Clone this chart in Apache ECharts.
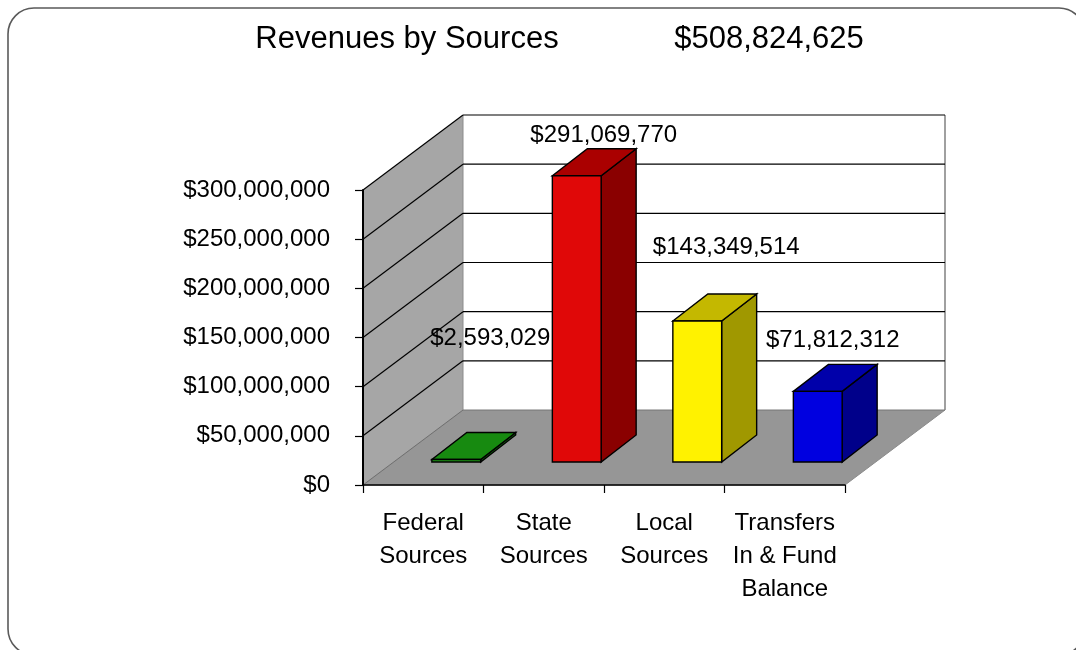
<!DOCTYPE html>
<html>
<head>
<meta charset="utf-8">
<title>Revenues by Sources</title>
<script src="https://cdn.jsdelivr.net/npm/echarts@6/dist/echarts.min.js"></script>
<style>
  html, body { margin: 0; padding: 0; background: #ffffff; }
  #chart { width: 1076px; height: 650px; }
</style>
</head>
<body>
<div id="chart"></div>
<script>
// Revenue sources (dollars)
const categories = ['Federal\nSources', 'State\nSources', 'Local\nSources', 'Transfers\nIn & Fund\nBalance'];
const revenues = [2593029, 291069770, 143349514, 71812312];
const chartTitle = 'Revenues by Sources';

// Value axis range
const axisMin = 0;
const axisMax = 300000000;
const axisStep = 50000000;

// Face colours per bar: [front, top, side]
const barFaces = [
  ['#1e9c16', '#178a10', '#0f660a'],
  ['#e00808', '#aa0000', '#8a0000'],
  ['#fff200', '#c4b800', '#a09800'],
  ['#0000e0', '#0000aa', '#00008a']
];

// Pixel offsets of each value label from its bar's value point
const labelOffsets = [[67, -144], [60, -63], [62, -97], [48, -74]];

// Pseudo-3D geometry (pixels)
const WALL_DEPTH = [100, -75];   // floor / side wall depth
const BAR_FRONT = [33, -23];     // bar front face pushed back into the scene
const BAR_DEPTH = [35, -27];     // bar thickness
const BAR_FRACTION = 0.405;      // bar width as share of a category band

const FONT = '"Liberation Sans", Arial, Helvetica, sans-serif';
const money = v => '$' + Math.round(v).toLocaleString('en-US');
const total = revenues.reduce((a, b) => a + b, 0);

const chart = echarts.init(document.getElementById('chart'), null, { renderer: 'canvas' });

function poly(points, fill, stroke, lw) {
  return {
    type: 'polygon',
    shape: { points: points },
    style: { fill: fill, stroke: stroke || null, lineWidth: lw || 0 }
  };
}
function seg(a, b, stroke, lw) {
  return {
    type: 'line',
    shape: { x1: a[0], y1: a[1], x2: b[0], y2: b[1] },
    style: { stroke: stroke, lineWidth: lw }
  };
}

// Side wall, back wall, floor and their gridlines
function renderFrame(params, api) {
  const cs = params.coordSys;
  const x0 = cs.x, x1 = cs.x + cs.width;
  const dx = WALL_DEPTH[0], dy = WALL_DEPTH[1];
  const yv = v => api.coord([0, v])[1];
  const yBot = yv(axisMin), yTop = yv(axisMax);
  const kids = [];
  // floor
  kids.push(poly([[x0, yBot], [x1, yBot], [x1 + dx, yBot + dy], [x0 + dx, yBot + dy]], '#969696', '#8a8a8a', 1));
  // left wall
  kids.push(poly([[x0, yBot], [x0 + dx, yBot + dy], [x0 + dx, yTop + dy], [x0, yTop]], '#a6a6a6', null, 0));
  // back wall
  kids.push(poly([[x0 + dx, yTop + dy], [x1 + dx, yTop + dy], [x1 + dx, yBot + dy], [x0 + dx, yBot + dy]], '#ffffff', null, 0));
  // wall edges
  kids.push(seg([x0, yBot], [x0 + dx, yBot + dy], '#6e6e6e', 1));
  kids.push(seg([x0 + dx, yTop + dy], [x0 + dx, yBot + dy], '#8c8c8c', 1));
  kids.push(seg([x1 + dx, yTop + dy], [x1 + dx, yBot + dy], '#a0a0a0', 2));
  kids.push(seg([x0 + dx, yBot + dy], [x1 + dx, yBot + dy], '#7a7a7a', 1));
  // gridlines
  for (let v = axisMin + axisStep; v <= axisMax; v += axisStep) {
    const y = yv(v);
    kids.push(seg([x0, y], [x0 + dx, y + dy], '#000000', 1.2));
    kids.push(seg([x0 + dx, y + dy], [x1 + dx, y + dy], '#000000', 1.2));
  }
  return { type: 'group', children: kids };
}

// One pseudo-3D bar plus its value label
function renderBar(params, api) {
  const i = api.value(0);
  const v = api.value(1);
  const top = api.coord([i, v]);
  const base = api.coord([i, axisMin]);
  const w = api.size([1, 0])[0] * BAR_FRACTION;
  const xl = top[0] + BAR_FRONT[0] - w / 2;
  const xr = xl + w;
  const yt = top[1] + BAR_FRONT[1];
  const yb = base[1] + BAR_FRONT[1];
  const bx = BAR_DEPTH[0], by = BAR_DEPTH[1];
  const c = barFaces[i];
  const edge = '#000000';
  const off = labelOffsets[i];
  return {
    type: 'group',
    children: [
      poly([[xr, yt], [xr + bx, yt + by], [xr + bx, yb + by], [xr, yb]], c[2], edge, 1.4),
      poly([[xl, yt], [xr, yt], [xr + bx, yt + by], [xl + bx, yt + by]], c[1], edge, 1.4),
      poly([[xl, yt], [xr, yt], [xr, yb], [xl, yb]], c[0], edge, 1.4),
      {
        type: 'text',
        z2: 10,
        style: {
          text: money(v),
          x: top[0] + off[0],
          y: top[1] + off[1],
          fill: '#000000',
          font: '24px ' + FONT,
          align: 'center', verticalAlign: 'middle',
          textAlign: 'center', textVerticalAlign: 'middle'
        }
      }
    ]
  };
}

const option = {
  backgroundColor: '#ffffff',
  animation: false,
  graphic: [
    {
      type: 'rect',
      z: -10,
      shape: { x: 8, y: 8, width: 1077, height: 647, r: 26 },
      style: { fill: 'none', stroke: '#5a5a5a', lineWidth: 1.6 }
    },
    {
      type: 'text',
      style: {
        text: chartTitle, x: 407, y: 39, fill: '#000000', font: '31px ' + FONT,
        align: 'center', verticalAlign: 'middle', textAlign: 'center', textVerticalAlign: 'middle'
      }
    },
    {
      type: 'text',
      style: {
        text: money(total), x: 769, y: 39, fill: '#000000', font: '31px ' + FONT,
        align: 'center', verticalAlign: 'middle', textAlign: 'center', textVerticalAlign: 'middle'
      }
    }
  ],
  grid: { left: 363, right: 231, top: 190, bottom: 165, containLabel: false },
  xAxis: {
    type: 'category',
    data: categories,
    z: 5,
    axisLine: { show: true, lineStyle: { color: '#000000', width: 1.5 } },
    axisTick: { show: true, length: 8, inside: false, alignWithLabel: false, lineStyle: { color: '#000000', width: 1.2 } },
    axisLabel: {
      color: '#000000', fontFamily: FONT, fontSize: 24, lineHeight: 33, margin: 22,
      interval: 0
    },
    splitLine: { show: false }
  },
  yAxis: {
    type: 'value',
    min: axisMin, max: axisMax, interval: axisStep,
    z: 5,
    axisLine: { show: true, lineStyle: { color: '#000000', width: 2 } },
    axisTick: { show: true, length: 8, inside: false, lineStyle: { color: '#000000', width: 1.2 } },
    axisLabel: { color: '#000000', fontFamily: FONT, fontSize: 24, margin: 33, formatter: v => money(v) },
    splitLine: { show: false }
  },
  series: [
    {
      type: 'custom',
      name: 'frame',
      z: 1,
      silent: true,
      clip: false,
      renderItem: renderFrame,
      encode: { x: 0, y: 1 },
      data: [[0, 0]]
    },
    {
      type: 'custom',
      name: 'revenues',
      z: 3,
      clip: false,
      renderItem: renderBar,
      encode: { x: 0, y: 1 },
      data: revenues.map((v, i) => [i, v])
    }
  ]
};

chart.setOption(option);
</script>
</body>
</html>
